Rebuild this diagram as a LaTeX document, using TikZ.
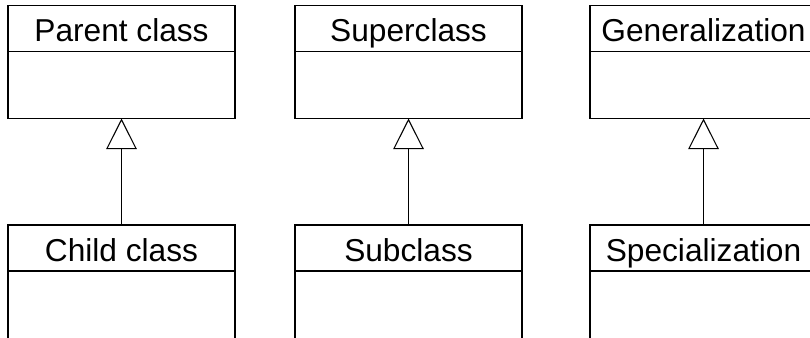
\documentclass[tikz,border=0pt]{standalone}
\usepackage{fontspec}
\setmainfont{Liberation Sans}
\usetikzlibrary{arrows.meta, positioning}

\begin{document}
\begin{tikzpicture}[x=0.75pt, y=-0.75pt,
    head/.style={draw, line width=0.8pt, outer sep=0pt, inner sep=0pt, anchor=north,
        minimum width=170.25pt, minimum height=34.5pt, text height=19.5pt, text depth=0pt,
        font=\fontsize{23.75}{28}\selectfont},
    body/.style={draw, line width=0.8pt, outer sep=0pt, inner sep=0pt,
        minimum width=170.25pt, minimum height=#1},
    inherit/.style={line width=0.8pt, -{Triangle[open, length=23pt, width=23pt]}}]

    \useasboundingbox (0,0) rectangle (810,337);
    \clip (0,0) rectangle (810,337);

    \node[head] (parent) at (121.5,5.5) {Parent class};
    \node[body=50.25pt, below=0pt of parent] (parentbody) {};
    \node[head] (child) at (121.5,225) {Child class};
    \node[body=90pt, below=0pt of child] (childbody) {};

    \node[head] (super) at (408.5,5.5) {Superclass};
    \node[body=50.25pt, below=0pt of super] (superbody) {};
    \node[head] (sub) at (408.5,225) {Subclass};
    \node[body=90pt, below=0pt of sub] (subbody) {};

    \node[head] (general) at (703.5,5.5) {Generalization};
    \node[body=50.25pt, below=0pt of general] (generalbody) {};
    \node[head] (special) at (703.5,225) {Specialization};
    \node[body=90pt, below=0pt of special] (specialbody) {};

    \draw[inherit] (child.north) -- (parentbody.south);
    \draw[inherit] (sub.north) -- (superbody.south);
    \draw[inherit] (special.north) -- (generalbody.south);

\end{tikzpicture}
\end{document}
